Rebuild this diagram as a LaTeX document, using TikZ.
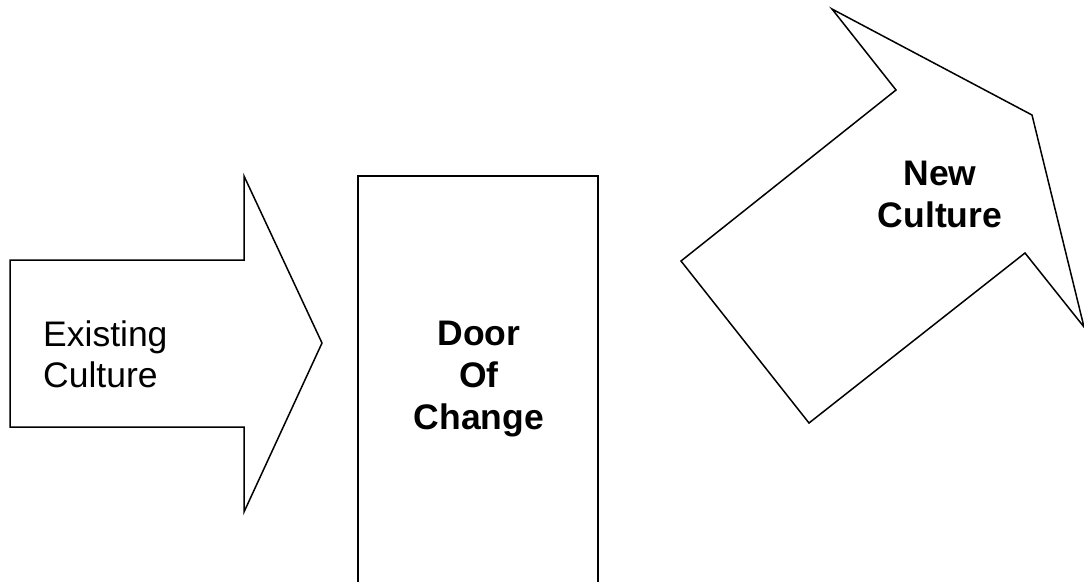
\documentclass[tikz,border=0pt]{standalone}
\usepackage{fontspec}
\setmainfont{Liberation Sans}
\usetikzlibrary{calc}
\tikzset{
  outline/.style={line width=1.5pt, line join=miter, black},
  doorline/.style={line width=2pt, black},
  plaintext/.style={inner sep=0pt, font=\fontsize{35.5}{41.5}\selectfont},
  boldtext/.style={inner sep=0pt, font=\fontsize{35.5}{42}\selectfont\bfseries, align=center}
}

\begin{document}
\begin{tikzpicture}[x=1pt, y=-1pt]
\useasboundingbox (0,0) rectangle (1084,582);

% ============ EXISTING CULTURE: arrow pointing right ============
\draw[outline] (10,260) -- (244,260) -- (244,176) -- (322,343) -- (244,512) -- (244,427) -- (10,427) -- cycle;
\node[plaintext, align=left, anchor=north west] (existing) at (43,320.5) {Existing\\Culture};

% ============ DOOR OF CHANGE: open-bottomed frame ============
\coordinate (doorBL) at (358,582);
\coordinate (doorBR) at (598,582);
\draw[doorline] (doorBL) -- (358,176) -- (598,176) -- (doorBR);
\node[boldtext, anchor=north] (door) at (479,321) {Door\\Of\\Change};

% ============ NEW CULTURE: tilted arrow ============
\draw[outline] (681,261) -- (896,90) -- (832,9) -- (1032,115) -- (1084,327) -- (1025,253) -- (809,423) -- cycle;
\node[boldtext, anchor=north] (new) at (940,160.5) {New\\Culture};
\end{tikzpicture}
\end{document}
